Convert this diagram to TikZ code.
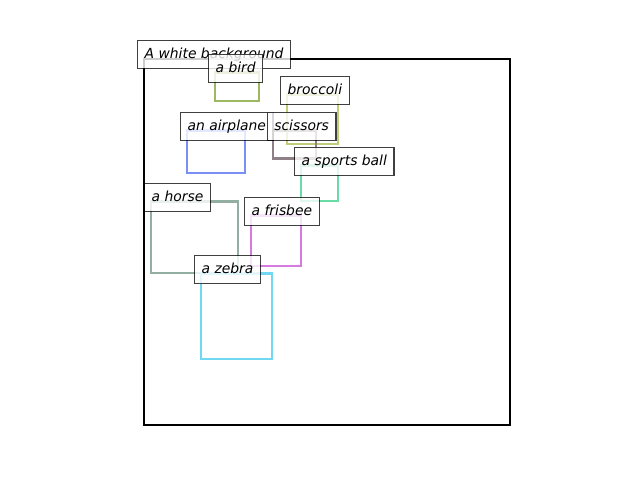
\documentclass[tikz,border=0pt]{standalone}
\usepackage{fontspec}
\setmainfont{DejaVu Sans}
\definecolor{cbird}{HTML}{9DB863}
\definecolor{cbroc}{HTML}{C2CC74}
\definecolor{cplane}{HTML}{7B8EF5}
\definecolor{cscis}{HTML}{8F7F87}
\definecolor{cball}{HTML}{68DBA6}
\definecolor{chorse}{HTML}{93AFA2}
\definecolor{cfris}{HTML}{D67AE0}
\definecolor{czebra}{HTML}{70D8F2}
\tikzset{
  lbl/.style={anchor=base west, font=\itshape\fontsize{10}{12}\selectfont,
    inner xsep=5.04pt, inner ysep=0pt, text height=12.96pt, text depth=7.2pt,
    draw=black, draw opacity=0.75, fill=white, fill opacity=0.8, text opacity=1,
    line width=0.9pt, xshift=-5.04pt},
  bbox/.style={line width=2pt, line join=miter},
}
\begin{document}
\begin{tikzpicture}[x=0.72pt, y=-0.72pt]
\useasboundingbox (0,0) rectangle (640,480);
\draw[line width=1.8pt, black] (144,59) rectangle (510,425);
\draw[bbox, cbird] (215,72.3) rectangle (259,101);
\draw[bbox, cbroc] (287,94.3) rectangle (338,144);
\draw[bbox, cplane] (187,130.3) rectangle (245,173);
\draw[bbox, cscis] (273,130.3) rectangle (316,158.5);
\draw[bbox, cball] (301,165.3) rectangle (338,201);
\draw[bbox, chorse] (151,201.3) rectangle (238,273);
\draw[bbox, cfris] (251,215.3) rectangle (301,266);
\draw[bbox, czebra] (201,273.7) rectangle (272,359);
\node[lbl] (lbg) at (144,58.3) {A white background};
\node[lbl] (lbird) at (215,72.3) {a bird};
\node[lbl] (lbroc) at (287,94.3) {broccoli};
\node[lbl] (lplane) at (187,130.3) {an airplane};
\node[lbl] (lscis) at (273.7,130.3) {scissors};
\node[lbl] (lball) at (301,165.3) {a sports ball};
\node[lbl] (lhorse) at (151,201.3) {a horse};
\node[lbl] (lfris) at (251,215.3) {a frisbee};
\node[lbl] (lzebra) at (201,273.7) {a zebra};
\end{tikzpicture}
\end{document}
